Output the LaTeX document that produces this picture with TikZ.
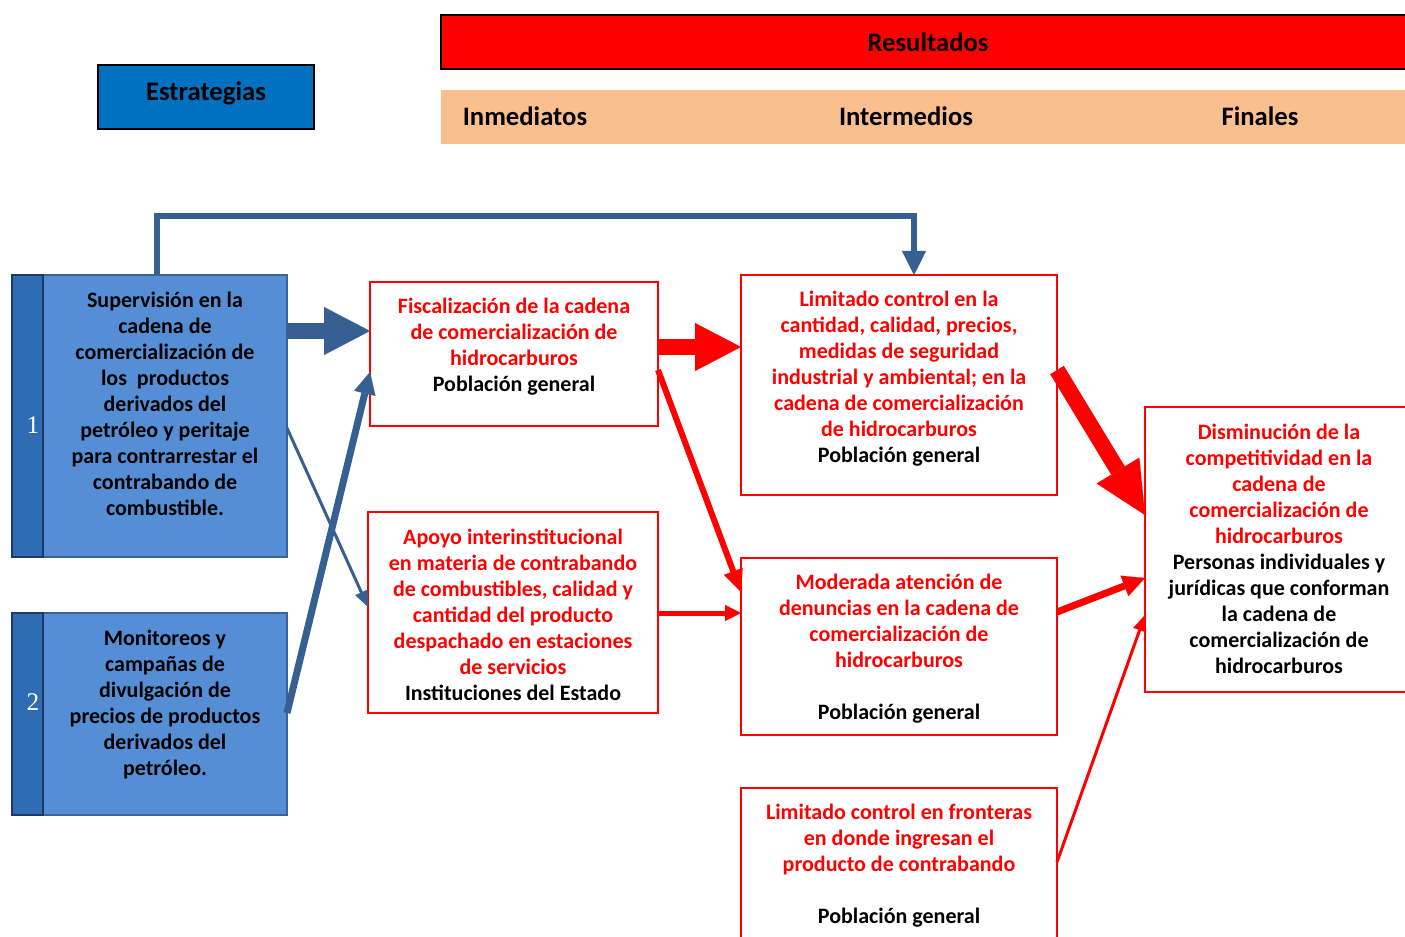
\documentclass[tikz,border=0pt]{standalone}
\usepackage{fontspec}
\setmainfont{Carlito}
\newfontfamily\numfont{Liberation Serif}
\usetikzlibrary{arrows.meta,fit}
\definecolor{bluefill}{HTML}{558ED5}
\definecolor{bluestrip}{HTML}{2E6DB4}
\definecolor{blueborder}{HTML}{3A6396}
\definecolor{stripborder}{HTML}{1F3864}
\definecolor{arrowblue}{HTML}{376092}
\definecolor{estrblue}{HTML}{0070C0}
\definecolor{orangebar}{HTML}{F9BF8F}
\begin{document}
\begin{tikzpicture}[x=0.75pt,y=-0.75pt,
  every node/.style={inner sep=0pt, outer sep=0pt},
  redbox/.style={draw=red, line width=1.6pt, fill=white},
  stratbox/.style={draw=blueborder, line width=1.5pt, fill=bluefill},
  stripbox/.style={draw=stripborder, line width=1.5pt, fill=bluestrip},
  txt/.style={align=center, font=\bfseries\fontsize{16.5pt}{19.5pt}\selectfont},
  hdr/.style={font=\bfseries\fontsize{20pt}{24pt}\selectfont},
  numtxt/.style={text=white, font=\numfont\fontsize{19pt}{22pt}\selectfont},
  blockarrow/.style={line width=12pt, -{Triangle[length=34.5pt,width=36pt,line width=0.1pt]}},
  bigdiag/.style={line width=12pt, -{Triangle[length=39pt,width=37.5pt,line width=0.1pt]}},
  medarrow/.style={line width=4.5pt, -{Triangle[length=16.5pt,width=15pt,line width=0.1pt]}},
  med2arrow/.style={line width=5.25pt, -{Triangle[length=16.5pt,width=16.5pt,line width=0.1pt]}},
  smallarrow/.style={line width=3.75pt, -{Triangle[length=12pt,width=12pt,line width=0.1pt]}},
  thinarrow/.style={line width=2.25pt, -{Triangle[length=12pt,width=10pt,line width=0.1pt]}},
  elbowarrow/.style={line width=4.5pt, line join=miter, -{Triangle[length=18pt,width=18pt,line width=0.1pt]}}
]
\clip (0,0) rectangle (1405,937);
\fill[white] (0,0) rectangle (1405,937);

% header
\node[fit={(98,65) (314,129)}, fill=estrblue, draw=black, line width=1.5pt] (E) {};
\node[hdr] (Et) at (206,93) {Estrategias};
\node[fit={(441,15) (1412,69)}, fill=red, draw=black, line width=2.2pt] (R) {};
\node[hdr] (Rt) at (928,42) {Resultados};
\node[fit={(441,90) (1412,144)}, fill=orangebar] (O) {};
\node[hdr] (O1) at (525,116) {Inmediatos};
\node[hdr] (O2) at (906,116) {Intermedios};
\node[hdr] (O3) at (1260,116) {Finales};

% strategy boxes
\node[fit={(12,275) (287,557)}] (S1) {};
\node[fit={(43,275) (287,557)}, stratbox] (S1m) {};
\node[fit={(12,275) (43,557)}, stripbox] (S1s) {};
\node[numtxt] (N1) at (33,425) {1};
\node[txt] (S1t) at (165,404) {Supervisión en la\\cadena de\\comercialización de\\los\ \ productos\\derivados del\\petróleo y peritaje\\para contrarrestar el\\contrabando de\\combustible.};

\node[fit={(12,613) (287,815)}] (S2) {};
\node[fit={(43,613) (287,815)}, stratbox] (S2m) {};
\node[fit={(12,613) (43,815)}, stripbox] (S2s) {};
\node[numtxt] (N2) at (33,702) {2};
\node[txt] (S2t) at (165,705) {Monitoreos y\\campañas de\\divulgación de\\precios de productos\\derivados del\\petróleo.};

% result boxes
\node[fit={(370,282) (658,426)}, redbox] (F) {};
\node[txt, text=red] (Ft) at (514,347) {Fiscalización de la cadena\\de comercialización de\\hidrocarburos\\\textcolor{black}{Población general}};

\node[fit={(368,512) (658,713)}, redbox] (A) {};
\node[txt, text=red] (At) at (513,615) {Apoyo interinstitucional\\en materia de contrabando\\de combustibles, calidad y\\cantidad del producto\\despachado en estaciones\\de servicios\\\textcolor{black}{Instituciones del Estado}};

\node[fit={(741,275) (1057,495)}, redbox] (L1) {};
\node[txt, text=red] (L1t) at (899,379) {Limitado control en la\\cantidad, calidad, precios,\\medidas de seguridad\\industrial y ambiental; en la\\cadena de comercialización\\de hidrocarburos\\\textcolor{black}{Población general}};

\node[fit={(741,558) (1057,735)}, redbox] (M) {};
\node[txt, text=red] (Mt) at (899,649) {Moderada atención de\\denuncias en la cadena de\\comercialización de\\hidrocarburos\\[19.5pt]\textcolor{black}{Población general}};

\node[fit={(741,788) (1057,948)}, redbox] (LF) {};
\node[txt, text=red] (LFt) at (899,866) {Limitado control en fronteras\\en donde ingresan el\\producto de contrabando\\[19.5pt]\textcolor{black}{Población general}};

\node[fit={(1145,407) (1413,692)}, redbox] (D) {};
\node[txt, text=red] (Dt) at (1279,549) {Disminución de la\\competitividad en la\\cadena de\\comercialización de\\hidrocarburos\\\textcolor{black}{Personas individuales y}\\\textcolor{black}{jurídicas que conforman}\\\textcolor{black}{la cadena de}\\\textcolor{black}{comercialización de}\\\textcolor{black}{hidrocarburos}};

% blue connectors
\draw[elbowarrow, arrowblue] (S1.north -| 157,0) -- (157,216) -- (914,216) -- (L1.north -| 914,0);
\draw[blockarrow, arrowblue] (S1.east |- 0,331) -- (F.west |- 0,331);
\draw[thinarrow, arrowblue] (S1.east |- 0,428) -- (A.west |- 0,607);
\draw[med2arrow, arrowblue] (S2.east |- 0,713) -- (F.west |- 0,372);

% red connectors
\draw[blockarrow, red] (F.east |- 0,347) -- (L1.west |- 0,347);
\draw[medarrow, red] (F.east |- 0,370) -- (M.west |- 0,592);
\draw[smallarrow, red] (A.east |- 0,613) -- (M.west |- 0,613);
\draw[bigdiag, red] (L1.east |- 0,370) -- (D.west |- 0,515);
\draw[med2arrow, red] (M.east |- 0,612) -- (D.west |- 0,578);
\draw[thinarrow, red] (LF.east |- 0,862) -- (D.west |- 0,615);
\end{tikzpicture}
\end{document}
